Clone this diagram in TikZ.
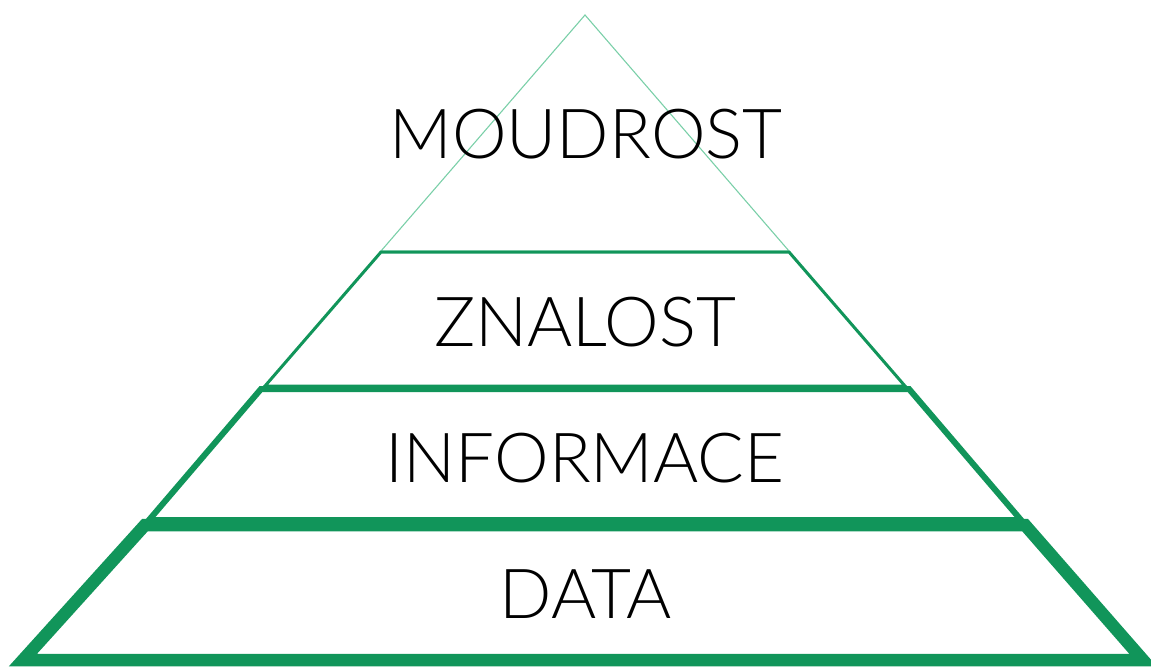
\documentclass[tikz,border=0pt]{standalone}
\usepackage{fontspec}
\setmainfont{Lato}[UprightFont={* Light}]
\definecolor{pg}{HTML}{11955A}
\definecolor{pl}{HTML}{7ACFA8}
\begin{document}
\begin{tikzpicture}[x=1pt,y=-1pt,
  layer/.style={draw=pg,line join=miter},
  lbl/.style={anchor=base,inner sep=0pt,font=\fontsize{69}{69}\selectfont,text=black}]
\useasboundingbox (0,0) rectangle (1151,667);
% top triangle
\draw[draw=pl,line width=1.1pt,line join=miter] (585,15) -- (381,251) -- (789,251) -- cycle;
% ZNALOST layer
\draw[layer,line width=3pt] (381,252) -- (789,252) -- (905,386) -- (265,386) -- cycle;
% INFORMACE layer
\draw[layer,line width=6pt] (261,389) -- (909,389) -- (1021,520) -- (149,520) -- cycle;
% DATA layer
\draw[layer,line width=12.5pt] (145,525) -- (1025,525) -- (1143,660) -- (23,660) -- cycle;
\node[lbl] (m) at (586,158) {MOUDROST};
\node[lbl] (z) at (585,346) {ZNALOST};
\node[lbl] (i) at (585,482) {INFORMACE};
\node[lbl] (d) at (586,618) {DATA};
\end{tikzpicture}
\end{document}
